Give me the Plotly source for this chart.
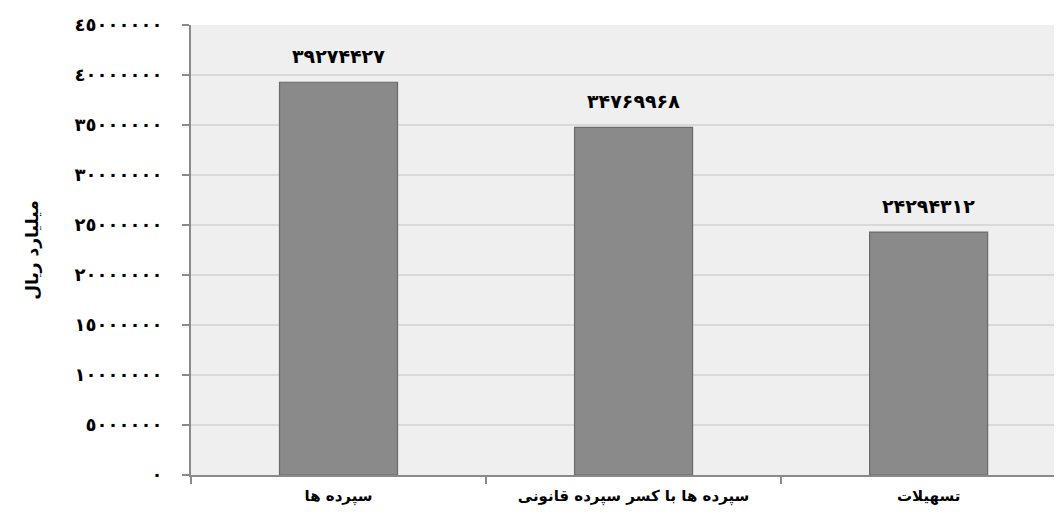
import plotly.graph_objects as go

categories = ["سپرده ها", "سپرده ها با کسر سپرده قانونی", "تسهیلات"]
values = [39274427, 34769968, 24294312]
value_labels = ["۳۹۲۷۴۴۲۷", "۳۴۷۶۹۹۶۸", "۲۴۲۹۴۳۱۲"]
tick_values = [0, 5000000, 10000000, 15000000, 20000000, 25000000, 30000000, 35000000, 40000000, 45000000]
tick_labels = ["٠", "٥٠٠٠٠٠٠", "١٠٠٠٠٠٠٠", "١٥٠٠٠٠٠٠", "٢٠٠٠٠٠٠٠", "٢٥٠٠٠٠٠٠",
               "٣٠٠٠٠٠٠٠", "٣٥٠٠٠٠٠٠", "٤٠٠٠٠٠٠٠", "٤٥٠٠٠٠٠٠"]
y_title = "میلیارد ریال"

FONT = "DejaVu Sans"

fig = go.Figure()
fig.add_trace(go.Bar(
    x=categories, y=values, width=0.40,
    marker=dict(color="#8a8a8a", line=dict(color="#6a6a6a", width=1.2)),
    hoverinfo="skip",
))

for c, v, t in zip(categories, values, value_labels):
    fig.add_annotation(x=c, y=v, text="<b>" + t + "</b>", showarrow=False,
                       yshift=26, font=dict(family=FONT, size=19, color="#000000"))

fig.update_layout(
    width=1046, height=504,
    margin=dict(l=183, r=0, t=17, b=37),
    paper_bgcolor="#ffffff", plot_bgcolor="#efefef",
    showlegend=False,
    font=dict(family=FONT, color="#000000"),
)
fig.update_xaxes(
    range=[-0.5, 2.425], tickson="boundaries",
    ticks="outside", ticklen=7, tickcolor="#8a8a8a", tickwidth=1.5,
    showline=True, linecolor="#8a8a8a", linewidth=2,
    showgrid=False, ticklabelstandoff=6,
    tickfont=dict(family=FONT, size=15, color="#000000"),
    tickprefix="<b>", ticksuffix="</b>",
)
fig.update_yaxes(
    range=[0, 45000000], tickvals=tick_values,
    ticktext=["<b>" + s + "</b>" for s in tick_labels],
    ticks="outside", ticklen=7, tickcolor="#8a8a8a", tickwidth=1.5,
    showline=True, linecolor="#8a8a8a", linewidth=2,
    showgrid=True, gridcolor="#d9d9d9", gridwidth=2,
    zeroline=False, ticklabelstandoff=16,
    tickfont=dict(family=FONT, size=18, color="#000000"),
    title=dict(text="<b>" + y_title + "</b>", font=dict(family=FONT, size=17, color="#000000"), standoff=32),
)

fig.write_html("out.html")
